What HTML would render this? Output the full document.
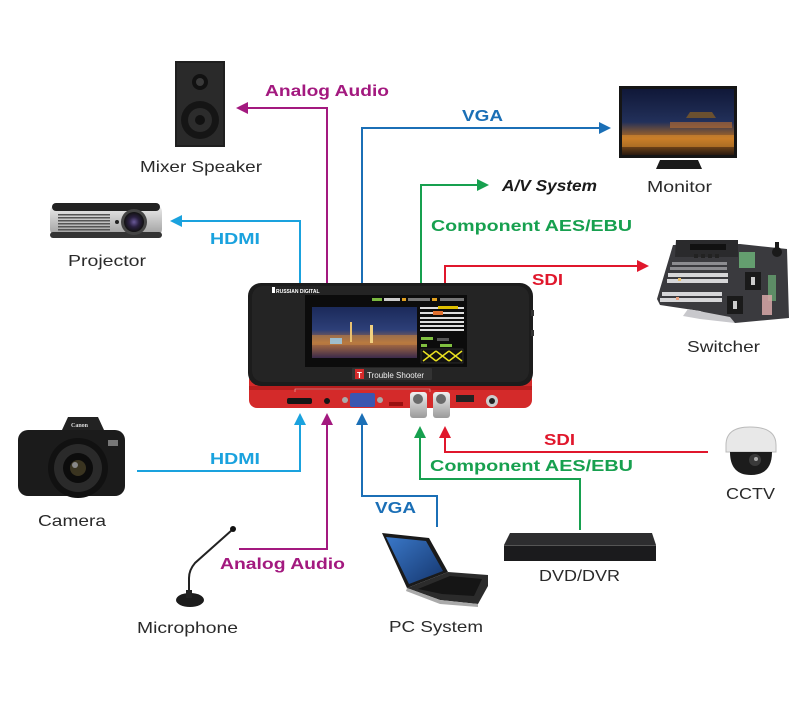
<!DOCTYPE html>
<html><head><meta charset="utf-8"><style>
html,body{margin:0;padding:0;background:#fff;}
svg{display:block;}
.lb{font-family:"Liberation Sans",sans-serif;font-weight:bold;font-size:16px;}
.nd{font-family:"Liberation Sans",sans-serif;font-size:16px;fill:#2a2a2a;}
</style></head><body>
<svg width="800" height="708" viewBox="0 0 800 708" xmlns="http://www.w3.org/2000/svg">
<defs>
<linearGradient id="city" x1="0" y1="0" x2="0" y2="1">
<stop offset="0" stop-color="#1b2a5a"/><stop offset="0.45" stop-color="#2d3f78"/><stop offset="0.7" stop-color="#b07040"/><stop offset="1" stop-color="#3a2a4a"/>
</linearGradient>
<linearGradient id="mon" x1="0" y1="0" x2="0" y2="1">
<stop offset="0" stop-color="#101838"/><stop offset="0.5" stop-color="#22305a"/><stop offset="0.75" stop-color="#b06a20"/><stop offset="1" stop-color="#2a1a10"/>
</linearGradient>
<linearGradient id="silver" x1="0" y1="0" x2="0" y2="1">
<stop offset="0" stop-color="#f0f0f0"/><stop offset="1" stop-color="#9a9a9a"/>
</linearGradient>
<linearGradient id="lap" x1="0" y1="0" x2="1" y2="1">
<stop offset="0" stop-color="#3a78c8"/><stop offset="1" stop-color="#15366e"/>
</linearGradient>
<radialGradient id="lens" cx="0.5" cy="0.5" r="0.5">
<stop offset="0" stop-color="#6a5a9a"/><stop offset="0.5" stop-color="#2a2040"/><stop offset="1" stop-color="#111"/>
</radialGradient>
</defs>

<!-- ===== connectors top ===== -->
<g fill="none" stroke-width="2">
<path d="M327,295 V108 H245" stroke="#a3197f"/>
<path d="M300,295 V221 H179" stroke="#1aa2de"/>
<path d="M362,295 V128 H601" stroke="#1b6fb6"/>
<path d="M421,295 V185 H479" stroke="#17a04f"/>
<path d="M445,295 V266 H639" stroke="#e0172c"/>
</g>
<polygon points="236,108 248,102 248,114" fill="#a3197f"/>
<polygon points="170,221 182,215 182,227" fill="#1aa2de"/>
<polygon points="611,128 599,122 599,134" fill="#1b6fb6"/>
<polygon points="489,185 477,179 477,191" fill="#17a04f"/>
<polygon points="649,266 637,260 637,272" fill="#e0172c"/>

<!-- ===== connectors bottom ===== -->
<g fill="none" stroke-width="2">
<path d="M137,471 H300 V423" stroke="#1aa2de"/>
<path d="M239,549 H327 V423" stroke="#a3197f"/>
<path d="M437,527 V496 H362 V423" stroke="#1b6fb6"/>
<path d="M580,530 V479 H420 V437" stroke="#17a04f"/>
<path d="M708,452 H445 V437" stroke="#e0172c"/>
</g>
<polygon points="300,413 294,425 306,425" fill="#1aa2de"/>
<polygon points="327,413 321,425 333,425" fill="#a3197f"/>
<polygon points="362,413 356,425 368,425" fill="#1b6fb6"/>
<polygon points="420,426 414,438 426,438" fill="#17a04f"/>
<polygon points="445,426 439,438 451,438" fill="#e0172c"/>

<!-- ===== connector labels ===== -->
<text class="lb" x="265" y="96" fill="#a3197f" font-size="17" textLength="124" lengthAdjust="spacingAndGlyphs">Analog Audio</text>
<text class="lb" x="210" y="244" fill="#1aa2de" textLength="50" lengthAdjust="spacingAndGlyphs">HDMI</text>
<text class="lb" x="462" y="121" fill="#1b6fb6" textLength="41" lengthAdjust="spacingAndGlyphs">VGA</text>
<text class="lb" x="502" y="191" fill="#1a1a1a" font-style="italic" textLength="95" lengthAdjust="spacingAndGlyphs">A/V System</text>
<text class="lb" x="431" y="231" fill="#17a04f" textLength="201" lengthAdjust="spacingAndGlyphs">Component AES/EBU</text>
<text class="lb" x="532" y="285" fill="#e0172c" textLength="31" lengthAdjust="spacingAndGlyphs">SDI</text>
<text class="lb" x="210" y="464" fill="#1aa2de" textLength="50" lengthAdjust="spacingAndGlyphs">HDMI</text>
<text class="lb" x="220" y="569" fill="#a3197f" font-size="17" textLength="125" lengthAdjust="spacingAndGlyphs">Analog Audio</text>
<text class="lb" x="375" y="513" fill="#1b6fb6" textLength="41" lengthAdjust="spacingAndGlyphs">VGA</text>
<text class="lb" x="430" y="471" fill="#17a04f" textLength="203" lengthAdjust="spacingAndGlyphs">Component AES/EBU</text>
<text class="lb" x="544" y="445" fill="#e0172c" textLength="31" lengthAdjust="spacingAndGlyphs">SDI</text>

<!-- ===== node labels ===== -->
<text class="nd" x="140" y="172" textLength="122" lengthAdjust="spacingAndGlyphs">Mixer Speaker</text>
<text class="nd" x="68" y="266" textLength="78" lengthAdjust="spacingAndGlyphs">Projector</text>
<text class="nd" x="647" y="192" textLength="65" lengthAdjust="spacingAndGlyphs">Monitor</text>
<text class="nd" x="687" y="352" textLength="73" lengthAdjust="spacingAndGlyphs">Switcher</text>
<text class="nd" x="38" y="526" textLength="68" lengthAdjust="spacingAndGlyphs">Camera</text>
<text class="nd" x="137" y="633" textLength="101" lengthAdjust="spacingAndGlyphs">Microphone</text>
<text class="nd" x="389" y="632" textLength="94" lengthAdjust="spacingAndGlyphs">PC System</text>
<text class="nd" x="539" y="581" textLength="81" lengthAdjust="spacingAndGlyphs">DVD/DVR</text>
<text class="nd" x="726" y="499" textLength="49" lengthAdjust="spacingAndGlyphs">CCTV</text>

<!-- ===== main device ===== -->
<rect x="249" y="372" width="283" height="36" rx="8" fill="#d42a2a"/>
<rect x="249" y="386" width="283" height="4" fill="#b81e1e"/>
<rect x="248" y="283" width="285" height="103" rx="13" fill="#1c1c1c"/>
<rect x="252" y="286" width="277" height="96" rx="11" fill="#242424"/>
<text x="276" y="293" font-family="Liberation Sans,sans-serif" font-size="5" font-weight="bold" fill="#fff">RUSSIAN DIGITAL</text>
<rect x="272" y="287" width="3" height="6" fill="#fff"/>
<!-- screen -->
<rect x="305" y="295" width="162" height="72" fill="#0c0c0c"/>
<rect x="312" y="307" width="105" height="51" fill="url(#city)"/>
<rect x="312" y="335" width="105" height="10" fill="#c08040" opacity="0.6"/>
<rect x="350" y="322" width="2" height="20" fill="#e8c070"/>
<rect x="370" y="325" width="3" height="18" fill="#f0d080"/>
<rect x="330" y="338" width="12" height="6" fill="#9ad0f0" opacity="0.8"/>
<rect x="372" y="298" width="10" height="3" fill="#7ab840"/>
<rect x="384" y="298" width="16" height="3" fill="#ccc"/>
<rect x="402" y="298" width="4" height="3" fill="#e0a020"/>
<rect x="408" y="298" width="22" height="3" fill="#777"/>
<rect x="432" y="298" width="5" height="3" fill="#e0a020"/>
<rect x="440" y="298" width="24" height="3" fill="#777"/>
<g fill="#ddd">
<rect x="420" y="307" width="44" height="2"/>
<rect x="420" y="312" width="44" height="2"/>
<rect x="420" y="317" width="44" height="2"/>
<rect x="420" y="321" width="44" height="2"/>
<rect x="420" y="325" width="44" height="2"/>
<rect x="420" y="329" width="44" height="2"/>
</g>
<rect x="433" y="311" width="10" height="4" fill="#e07030"/>
<rect x="438" y="306" width="20" height="3" fill="#e0c000"/>
<rect x="421" y="337" width="12" height="3" fill="#80c040"/>
<rect x="437" y="338" width="12" height="3" fill="#555"/>
<rect x="421" y="344" width="6" height="3" fill="#80c040"/>
<rect x="440" y="344" width="12" height="3" fill="#80c040"/>
<rect x="421" y="349" width="42" height="14" fill="#111" stroke="#444" stroke-width="0.5"/>
<path d="M423,351 L436,361 M436,351 L423,361 M436,351 L449,361 M449,351 L436,361 M449,351 L462,361 M462,351 L449,361" stroke="#e8e020" stroke-width="1.5"/>
<!-- trouble shooter badge -->
<rect x="352" y="368" width="80" height="12" rx="1" fill="#333"/>
<rect x="355" y="369" width="9" height="10" fill="#d42a2a"/>
<text x="357" y="378" font-family="Liberation Sans,sans-serif" font-size="8" font-weight="bold" fill="#fff">T</text>
<text x="367" y="378" font-family="Liberation Sans,sans-serif" font-size="8" fill="#eee">Trouble Shooter</text>
<!-- side buttons -->
<rect x="531" y="310" width="3" height="6" fill="#333"/>
<rect x="531" y="330" width="3" height="6" fill="#333"/>
<!-- ports -->
<path d="M295,392 V389 H430 V392" stroke="#f0c0c0" stroke-width="0.6" fill="none"/>
<rect x="287" y="398" width="25" height="6" rx="2" fill="#151515"/>
<circle cx="327" cy="401" r="3" fill="#151515"/>
<circle cx="345" cy="400" r="3" fill="#aaa"/>
<circle cx="380" cy="400" r="3" fill="#aaa"/>
<rect x="350" y="393" width="25" height="14" rx="2" fill="#3a56b0"/>
<rect x="389" y="402" width="14" height="4" fill="#9a1010"/>
<rect x="410" y="392" width="17" height="26" rx="3" fill="url(#silver)"/>
<rect x="433" y="392" width="17" height="26" rx="3" fill="url(#silver)"/>
<circle cx="418" cy="399" r="5" fill="#6a6a6a"/>
<circle cx="441" cy="399" r="5" fill="#6a6a6a"/>
<rect x="456" y="395" width="18" height="7" fill="#222"/>
<circle cx="492" cy="401" r="6" fill="#ccc"/>
<circle cx="492" cy="401" r="3" fill="#222"/>

<!-- ===== speaker ===== -->
<rect x="175" y="61" width="50" height="86" fill="#1f1f1f"/>
<rect x="177" y="63" width="46" height="82" fill="#2a2a2a"/>
<circle cx="200" cy="82" r="8" fill="#111"/>
<circle cx="200" cy="82" r="4" fill="#3a3a3a"/>
<circle cx="200" cy="120" r="19" fill="#151515"/>
<circle cx="200" cy="120" r="12" fill="#2c2c2c"/>
<circle cx="200" cy="120" r="5" fill="#111"/>

<!-- ===== projector ===== -->
<rect x="50" y="204" width="112" height="33" rx="8" fill="url(#silver)"/>
<rect x="52" y="203" width="108" height="8" rx="4" fill="#222"/>
<rect x="50" y="232" width="112" height="6" rx="3" fill="#333"/>
<g fill="#555"><rect x="58" y="214" width="52" height="1.5"/><rect x="58" y="217" width="52" height="1.5"/><rect x="58" y="220" width="52" height="1.5"/><rect x="58" y="223" width="52" height="1.5"/><rect x="58" y="226" width="52" height="1.5"/><rect x="58" y="229" width="52" height="1.5"/></g>
<circle cx="117" cy="222" r="2" fill="#222"/>
<circle cx="134" cy="222" r="13" fill="#444"/>
<circle cx="134" cy="222" r="10" fill="url(#lens)"/>

<!-- ===== monitor ===== -->
<rect x="619" y="86" width="118" height="72" fill="#151515"/>
<rect x="622" y="89" width="112" height="66" fill="url(#mon)"/>
<rect x="622" y="135" width="112" height="12" fill="#e09030" opacity="0.55"/>
<polygon points="690,112 712,112 716,118 686,118" fill="#6a5030"/>
<rect x="670" y="122" width="62" height="6" fill="#c07030" opacity="0.6"/>
<polygon points="660,160 698,160 702,169 656,169" fill="#1a1a1a"/>

<!-- ===== switcher ===== -->
<polygon points="673,245 740,244 787,249 789,318 735,323 700,311 660,305 657,299" fill="#3a3a3e"/>
<polygon points="688,309 730,317 735,323 700,319 683,316" fill="#c8c8cc"/>
<polygon points="676,240 738,240 738,257 675,257" fill="#2a2a2c"/>
<rect x="690" y="244" width="36" height="6" fill="#111"/>
<g fill="#222"><rect x="694" y="254" width="4" height="4"/><rect x="701" y="254" width="4" height="4"/><rect x="708" y="254" width="4" height="4"/><rect x="715" y="254" width="4" height="4"/></g>
<g fill="#8c8c90">
<rect x="672" y="262" width="55" height="3"/>
<rect x="670" y="267" width="57" height="3"/>
</g>
<g fill="#d6d6d8">
<rect x="668" y="273" width="60" height="4"/>
<rect x="667" y="279" width="61" height="4"/>
<rect x="662" y="292" width="60" height="4"/>
<rect x="660" y="298" width="62" height="4"/>
</g>
<rect x="678" y="278" width="3" height="3" fill="#e8c070"/>
<rect x="676" y="297" width="3" height="3" fill="#e8a080"/>
<rect x="739" y="252" width="16" height="16" fill="#6cb078" opacity="0.85"/>
<rect x="768" y="275" width="8" height="26" fill="#6cb078" opacity="0.7"/>
<rect x="762" y="295" width="10" height="20" fill="#d8a8a8" opacity="0.85"/>
<rect x="745" y="272" width="16" height="18" fill="#1a1a1a"/>
<rect x="751" y="277" width="4" height="8" fill="#ccc"/>
<rect x="727" y="296" width="16" height="18" fill="#1a1a1a"/>
<rect x="733" y="301" width="4" height="8" fill="#ccc"/>
<circle cx="777" cy="252" r="5" fill="#1a1a1a"/>
<rect x="775" y="242" width="4" height="10" fill="#1a1a1a"/>

<!-- ===== camera ===== -->
<rect x="18" y="430" width="107" height="66" rx="10" fill="#1b1b1b"/>
<polygon points="62,430 68,417 98,417 104,430" fill="#222"/>
<text x="71" y="427" font-family="Liberation Serif,serif" font-size="6" font-weight="bold" fill="#ddd">Canon</text>
<rect x="108" y="440" width="10" height="6" fill="#777"/>
<circle cx="78" cy="468" r="30" fill="#111"/>
<circle cx="78" cy="468" r="24" fill="#2a2a2a"/>
<circle cx="78" cy="468" r="15" fill="#0c0c0c"/>
<circle cx="78" cy="468" r="8" fill="#3a3420"/>
<circle cx="75" cy="465" r="3" fill="#888"/>

<!-- ===== microphone ===== -->
<ellipse cx="190" cy="600" rx="14" ry="7" fill="#1c1c1c"/>
<rect x="186" y="590" width="6" height="8" fill="#222"/>
<path d="M189,591 V578 Q189,570 195,563 L232,530" stroke="#222" stroke-width="2" fill="none"/>
<circle cx="233" cy="529" r="3" fill="#111"/>

<!-- ===== laptop ===== -->
<polygon points="382,533 429,538 448,572 407,588" fill="#1a1a1a"/>
<polygon points="386,537 426,541 443,571 409,584" fill="url(#lap)"/>
<polygon points="407,588 448,572 488,575 488,586 478,604 440,600" fill="#2b2b2b"/>
<polygon points="418,589 450,576 482,579 474,596 442,594" fill="#151515"/>
<polygon points="407,588 440,600 478,604 478,607 440,604 406,591" fill="#aaa"/>

<!-- ===== DVD ===== -->
<polygon points="510,533 652,533 656,545 504,545" fill="#2d2d2f"/>
<rect x="504" y="545" width="152" height="16" fill="#1b1b1d"/>
<rect x="504" y="545" width="152" height="1" fill="#555"/>

<!-- ===== CCTV ===== -->
<path d="M726,445 Q726,427 750,427 Q776,427 776,445 V452 H726 Z" fill="#e8e8e8" stroke="#bbb" stroke-width="1"/>
<path d="M730,452 Q730,475 751,475 Q772,475 772,452 Z" fill="#1c1c1c"/>
<circle cx="755" cy="460" r="6" fill="#3a3a3a"/>
<circle cx="756" cy="459" r="2" fill="#aaa"/>
</svg>
</body></html>
